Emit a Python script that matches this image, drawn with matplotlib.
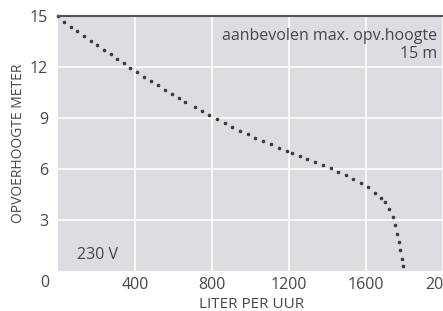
import matplotlib
matplotlib.use("Agg")
import matplotlib.pyplot as plt

# Pump curve: flow (liter per hour) vs head (meter)
flow = [0, 31, 66, 100, 134, 169, 203, 238, 273, 307, 341, 376, 410, 448, 483,
        517, 555, 591, 626, 662, 714, 748, 786, 828, 865, 904, 945, 986, 1024,
        1066, 1107, 1148, 1190, 1217, 1255, 1293, 1334, 1376, 1417, 1455, 1497,
        1535, 1576, 1610, 1645, 1679, 1697, 1717, 1738, 1752, 1762, 1772, 1779,
        1786, 1790]
head = [15.0, 14.64, 14.36, 14.09, 13.81, 13.54, 13.27, 13.0, 12.74, 12.47,
        12.22, 11.94, 11.69, 11.43, 11.18, 10.93, 10.67, 10.42, 10.16, 9.93,
        9.64, 9.40, 9.17, 8.95, 8.72, 8.49, 8.25, 8.03, 7.85, 7.66, 7.45, 7.25,
        7.03, 6.94, 6.78, 6.61, 6.41, 6.25, 6.06, 5.84, 5.65, 5.43, 5.20, 4.92,
        4.61, 4.32, 4.07, 3.66, 3.17, 2.68, 2.19, 1.70, 1.21, 0.73, 0.29]

x_ticks = [400, 800, 1200, 1600, 2000]
x_labels = ["400", "800", "1200", "1600", "2000"]
y_ticks = [3, 6, 9, 12, 15]
y_labels = ["3", "6", "9", "12", "15"]

plt.rcParams['font.family'] = ['Open Sans', 'DejaVu Sans']
txt = '#45474d'
fs = 11.5

fig = plt.figure(figsize=(4.43, 3.11), dpi=100)
ax = fig.add_axes([58/443, 40/311, 1 - 58/443, 255/311])
ax.set_facecolor('#dcdde0')
ax.set_xlim(0, 1991)
ax.set_ylim(0, 15)
ax.set_xticks(x_ticks)
ax.set_xticklabels(x_labels)
ax.set_yticks(y_ticks)
ax.set_yticklabels(y_labels)
ax.grid(True, color='white', linewidth=1.2)
ax.set_axisbelow(True)
for s in ['left', 'right', 'bottom']:
    ax.spines[s].set_visible(False)
ax.spines['top'].set_color('#505258')
ax.spines['top'].set_linewidth(1.5)
ax.tick_params(length=0, labelsize=fs, colors=txt)
ax.tick_params(axis='x', pad=4)
ax.tick_params(axis='y', pad=7)

ax.plot(flow, head, linestyle='none', marker='o', markersize=1.6,
        color='#3a3c44', clip_on=False)

ax.text(1972, 13.3, "aanbevolen max. opv.hoogte\n15 m", ha='right', va='center',
        fontsize=fs, color=txt, linespacing=1.15)
ax.text(100, 0.92, "230 V", ha='left', va='center', fontsize=fs, color=txt)

fig.text(45/443, 1 - 283/311, "0", ha='center', va='center', fontsize=fs, color=txt)
fig.text(18.5/443, 1 - 143/311, "OPVOERHOOGTE METER", rotation=90, ha='center',
         va='center', fontsize=10, color=txt)
fig.text(252/443, 1 - 304/311, "LITER PER UUR", ha='center', va='center',
         fontsize=11, color=txt)

fig.savefig("out.png", dpi=100)
